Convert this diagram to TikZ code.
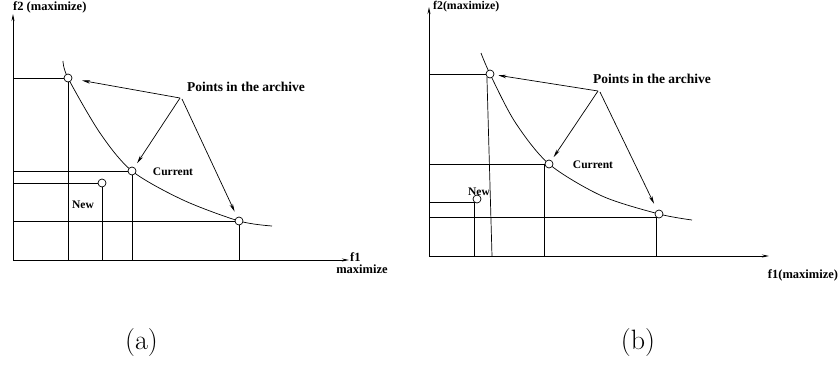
\documentclass[tikz,border=0pt]{standalone}
\usepackage{fontspec}
\newfontfamily\tnr{Liberation Serif}
\usetikzlibrary{arrows.meta}
\begin{document}
\begin{tikzpicture}[x=1pt,y=-1pt,
 ln/.style={line width=0.7pt},
 axisline/.style={line width=0.9pt,-{Stealth[length=7pt,width=3pt]}},
 pt/.style={circle,draw,fill=white,line width=0.7pt,minimum size=8pt,inner sep=0pt},
 lab/.style={font=\tnr\bfseries\fontsize{11.5}{13}\selectfont,inner sep=0pt},
 biglab/.style={font=\tnr\bfseries\fontsize{13.5}{15}\selectfont,inner sep=0pt},
 axlab/.style={font=\tnr\bfseries\fontsize{12.5}{14}\selectfont,inner sep=0pt},
 arr/.style={line width=0.7pt,-{Stealth[length=8pt,width=3.5pt]}},
 capt/.style={font=\fontsize{28}{30}\selectfont,inner sep=0pt}]
\useasboundingbox (0,0) rectangle (838,369);
% ---------------- panel (a)
\coordinate (ao) at (13,260);
\coordinate (aytop) at (13,14);
\coordinate (axend) at (349,260);
\draw[axisline] (ao) -- (aytop);
\draw[axisline] (ao) -- (axend);
\node[axlab,anchor=west] (af2) at (13,7) {f2 (maximize)};
\node[axlab,anchor=west] (af1) at (350,257) {f1};
\node[axlab] (afmax) at (362,269) {maximize};
\draw[ln] plot[smooth] coordinates {(63,61) (68,78) (100,133) (132,171) (183,200) (239,221) (272,226)};
\node[pt] (a1) at (68,78) {};
\node[pt] (ac) at (132,171) {};
\node[pt] (a3) at (239,221) {};
\node[pt] (an) at (102,183) {};
\draw[ln] (ao |- a1.west) -- (a1.west);
\draw[ln] (a1.south) -- (ao -| a1.south);
\draw[ln] (ao |- ac.west) -- (ac.west);
\draw[ln] (ac.south) -- (ao -| ac.south);
\draw[ln] (ao |- a3.west) -- (a3.west);
\draw[ln] (a3.south) -- (ao -| a3.south);
\draw[ln] (ao |- an.west) -- (an.west);
\draw[ln] (an.south) -- (ao -| an.south);
\node[biglab] (apts) at (246,87) {Points in the archive};
\node[lab] (acur) at (173,172) {Current};
\node[lab] (anew) at (83,205) {New};
\coordinate (aapex) at (180,98);
\coordinate (aapex2) at (182,99);
\draw[arr,shorten >=10pt] (aapex) -- (a1);
\draw[arr,shorten >=5pt] (aapex) -- (ac);
\draw[arr,shorten >=6pt] (aapex2) -- (a3);
\node[capt] (capa) at (141.5,343) {(a)};
% ---------------- panel (b)
\coordinate (bo) at (429,256);
\coordinate (bytop) at (429,7);
\coordinate (bxend) at (769,256);
\draw[axisline] (bo) -- (bytop);
\draw[axisline] (bo) -- (bxend);
\node[axlab,font=\tnr\bfseries\fontsize{11.8}{13}\selectfont,anchor=west] (bf2) at (433,7) {f2(maximize)};
\node[axlab] (bf1) at (803,275) {f1(maximize)};
\draw[ln] plot[smooth] coordinates {(481,53) (490,74) (515,122) (549,164) (602,196) (659,214) (692,220)};
\node[pt] (b1) at (490,74) {};
\node[pt] (bc) at (549,164) {};
\node[pt] (b3) at (659,214) {};
\node[pt] (bn) at (477,199) {};
\coordinate (b1foot) at (492,256);
\draw[ln] (bo |- b1.west) -- (b1.west);
\draw[ln] (b1.south west) -- (b1foot);
\draw[ln] (bo |- bc.west) -- (bc.west) -- (bo -| bc.west);
\draw[ln] (bo |- b3.south west) -- (b3.south west) -- (bo -| b3.south west);
\draw[ln] (bo |- bn.south west) -- (bn.south west) -- (bo -| bn.south west);
\node[biglab] (bpts) at (652,79) {Points in the archive};
\node[lab] (bcur) at (593,165) {Current};
\node[lab] (bnew) at (479,192) {New};
\coordinate (bapex) at (598,91);
\coordinate (bapex2) at (600,92);
\draw[arr,shorten >=4pt] (bapex) -- (b1);
\draw[arr,shorten >=4pt] (bapex) -- (bc);
\draw[arr,shorten >=7pt] (bapex2) -- (b3);
\node[capt] (capb) at (638,343) {(b)};
\end{tikzpicture}
\end{document}
